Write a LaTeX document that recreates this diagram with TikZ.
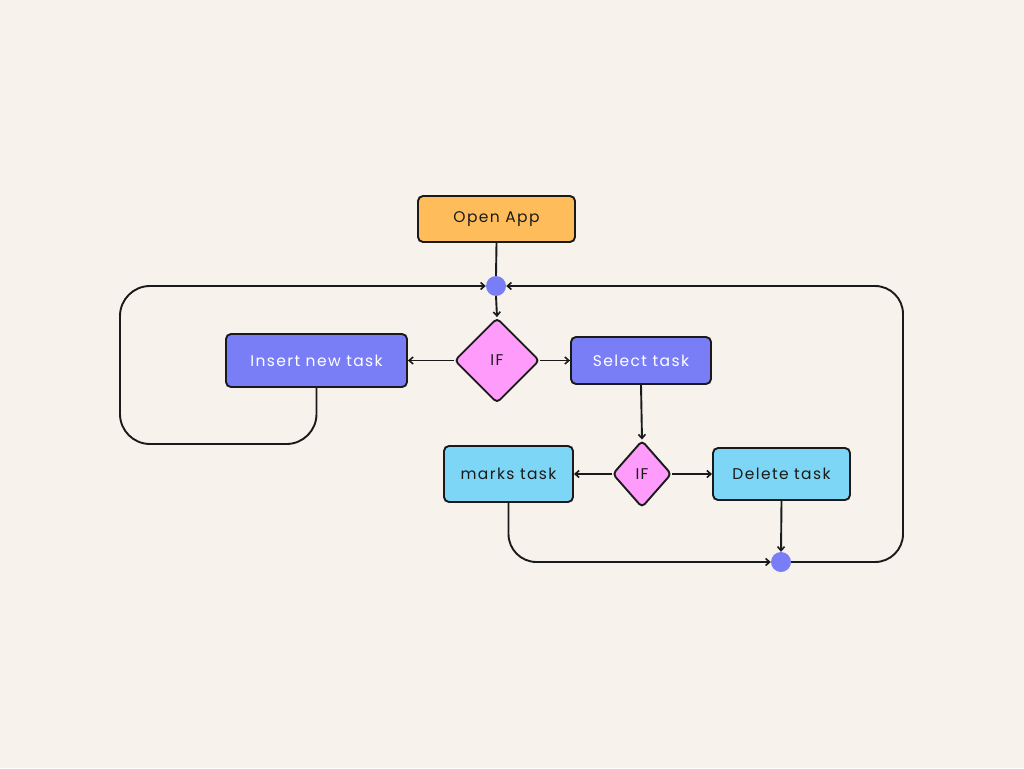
\documentclass[tikz,border=0pt]{standalone}
\usepackage{fontspec}
\setmainfont{Poppins}
\usetikzlibrary{shapes.geometric,arrows.meta}
\definecolor{bg}{HTML}{F7F3EC}
\definecolor{orangebox}{HTML}{FFBC5B}
\definecolor{purplebox}{HTML}{797EF6}
\definecolor{pinkbox}{HTML}{FF9BFA}
\definecolor{bluebox}{HTML}{7DD6F6}
\definecolor{ink}{HTML}{1A1A1A}
\tikzset{
  txt/.style={font=\addfontfeatures{LetterSpace=9}\fontsize{15.5}{18}\selectfont},
  box/.style={draw=ink, line width=1.9pt, rounded corners=5pt, inner sep=0pt, txt},
  decision/.style={draw=ink, line width=1.9pt, shape=diamond, fill=pinkbox, rounded corners=4pt, inner sep=0pt, text=ink, txt},
  junction/.style={circle, fill=purplebox, inner sep=0pt, minimum size=20pt},
  conn/.style={draw=ink, line width=1.9pt},
  arr/.style={conn, -{Straight Barb[length=4pt,width=7pt,line width=1.6pt]}},
}
\begin{document}
\begin{tikzpicture}[x=1pt,y=-1pt]
\useasboundingbox[fill=bg] (0,0) rectangle (1024,768);
\node[box, fill=orangebox, text=ink, minimum width=157pt, minimum height=46pt] (open) at (496.5,219) {Open App};
\node[junction] (top) at (496,286) {};
\node[decision, minimum width=85pt, minimum height=85pt] (if1) at (497,360.5) {IF};
\node[box, fill=purplebox, text=white, minimum width=181pt, minimum height=53pt] (insert) at (316.5,360.5) {Insert new task};
\node[box, fill=purplebox, text=white, minimum width=140pt, minimum height=47pt] (select) at (641,360.5) {Select task};
\node[decision, minimum width=59pt, minimum height=67pt] (if2) at (642,474) {IF};
\node[box, fill=bluebox, text=ink, minimum width=129pt, minimum height=56pt] (marks) at (508.5,474) {marks task};
\node[box, fill=bluebox, text=ink, minimum width=137pt, minimum height=52pt] (delete) at (781.5,474) {Delete task};
\node[junction] (bot) at (781,562) {};

\draw[conn] (open.south) -- (top.north);
\draw[arr] (top.south) -- (if1.north);
\draw[arr] (if1.west) -- (insert.east);
\draw[arr] (if1.east) -- (select.west);
\draw[arr] (select.south) -- (if2.north);
\draw[arr] (if2.west) -- (marks.east);
\draw[arr] (if2.east) -- (delete.west);
\draw[arr] (delete.south) -- (bot.north);
\draw[arr, rounded corners=28pt] (marks.south) |- (bot.west);
\coordinate (rc) at (903,562);
\draw[arr, rounded corners=28pt] (bot.east) -- (rc) |- (top.east);
\coordinate (lc) at (120,444);
\draw[arr, rounded corners=30pt] (insert.south) |- (lc) |- (top.west);
\end{tikzpicture}
\end{document}
